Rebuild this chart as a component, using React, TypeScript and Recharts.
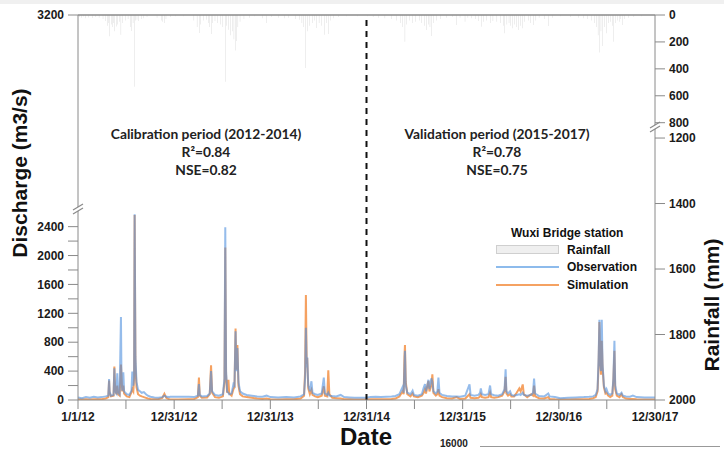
import React from 'react';
import { ComposedChart, Line, Bar, XAxis, YAxis, ReferenceLine } from 'recharts';

// days since 1/1/12
const DAYS = [
  0, 15, 30, 45, 60, 75, 90, 105, 115, 118, 120, 125, 135, 138, 141, 146, 149, 152, 158, 163, 165, 168, 172, 175, 185, 195,
  203, 206, 210, 213, 215, 218, 222, 228, 235, 242, 250, 258, 265, 275, 290, 305, 320, 328, 335, 345, 350, 380, 420, 440,
  455, 459, 462, 470, 490, 500, 505, 509, 520, 535, 550, 556, 559, 562, 566, 571, 574, 583, 590, 594, 598, 601, 605, 609,
  615, 625, 640, 660, 680, 700, 716, 730, 760, 790, 820, 845, 858, 862, 865, 868, 870, 874, 880, 886, 890, 900, 910, 925,
  933, 937, 946, 950, 954, 965, 980, 997, 1010, 1030, 1050, 1070, 1095, 1110, 1130, 1150, 1170, 1190, 1205, 1220, 1227,
  1232, 1236, 1239, 1241, 1244, 1250, 1262, 1270, 1275, 1290, 1305, 1312, 1317, 1321, 1326, 1330, 1334, 1341, 1345, 1349,
  1358, 1364, 1368, 1372, 1382, 1400, 1420, 1437, 1450, 1470, 1486, 1490, 1505, 1520, 1526, 1529, 1533, 1545, 1558, 1564,
  1568, 1580, 1595, 1610, 1619, 1623, 1626, 1632, 1640, 1645, 1655, 1665, 1675, 1680, 1688, 1692, 1705, 1720, 1727, 1731,
  1735, 1750, 1770, 1785, 1790, 1810, 1830, 1860, 1890, 1920, 1940, 1955, 1965, 1972, 1976, 1979, 1982, 1985, 1988, 1991,
  1996, 2002, 2006, 2012, 2020, 2028, 2032, 2036, 2039, 2045, 2055, 2063, 2068, 2080, 2095, 2106, 2120, 2150, 2190,
];
const OBS = [
  35, 25, 40, 30, 45, 35, 40, 50, 60, 290, 120, 60, 70, 440, 120, 90, 370, 110, 80, 1150, 300, 130, 385, 120, 80, 70,
  130, 395, 200, 350, 2570, 600, 250, 140, 120, 100, 110, 80, 60, 45, 35, 30, 40, 60, 45, 40, 45, 45, 45, 40,
  60, 220, 70, 50, 55, 90, 400, 120, 70, 60, 80, 300, 2390, 400, 120, 100, 80, 90, 220, 200, 950, 400, 720, 250,
  120, 90, 70, 60, 50, 45, 60, 40, 35, 40, 35, 50, 80, 300, 1000, 450, 590, 200, 120, 260, 100, 80, 70, 90,
  310, 90, 70, 100, 60, 55, 50, 70, 40, 35, 30, 30, 30, 40, 45, 40, 45, 50, 55, 80, 140,
  180, 100, 450, 680, 200, 100, 80, 130, 70, 60, 80, 170, 220, 120, 200, 280, 150, 300, 250, 120,
  90, 120, 310, 100, 70, 55, 50, 50, 45, 60, 215, 70, 60, 70, 100, 160, 80, 70, 80, 200,
  80, 65, 60, 80, 150, 425, 120, 90, 120, 70, 60, 70, 80, 70, 100, 70, 60, 70, 100, 295,
  90, 55, 50, 90, 50, 40, 25, 30, 35, 40, 45, 50, 70, 150, 600, 1110, 500, 400, 1110, 500,
  200, 120, 150, 90, 70, 90, 300, 820, 200, 90, 70, 100, 60, 50, 45, 60, 40, 35, 35,
];
const SIM = [
  10, 8, 10, 8, 12, 10, 12, 20, 40, 270, 100, 50, 60, 465, 150, 80, 200, 80, 60, 490, 350, 120, 200, 90, 50, 40,
  110, 150, 120, 300, 2560, 500, 180, 80, 60, 50, 40, 30, 20, 15, 10, 12, 30, 85, 30, 10, 8, 8, 10, 12,
  40, 310, 60, 30, 35, 80, 480, 100, 40, 30, 50, 250, 2110, 350, 100, 280, 90, 60, 150, 180, 990, 420, 760, 200,
  80, 50, 40, 30, 20, 15, 20, 10, 8, 10, 10, 20, 60, 400, 1455, 500, 580, 160, 80, 140, 70, 50, 40, 60,
  190, 60, 50, 410, 80, 30, 25, 20, 12, 10, 8, 8, 8, 10, 12, 10, 12, 15, 20, 50, 90,
  120, 80, 600, 760, 250, 80, 50, 90, 50, 40, 60, 100, 150, 90, 200, 265, 120, 200, 355, 100,
  60, 80, 150, 60, 40, 25, 20, 40, 15, 20, 80, 30, 25, 30, 50, 80, 40, 30, 40, 100,
  40, 30, 40, 60, 120, 320, 90, 60, 80, 50, 50, 100, 160, 120, 215, 80, 40, 80, 60, 200,
  50, 25, 20, 40, 15, 10, 8, 8, 10, 10, 15, 25, 40, 120, 500, 1080, 600, 350, 820, 450,
  180, 90, 100, 60, 40, 60, 280, 680, 150, 60, 40, 80, 40, 20, 15, 15, 10, 8, 8,
];

const RAIN_DAYS = [
  5, 12, 20, 28, 40, 55, 68, 80, 95, 105, 112, 116, 121, 126, 132, 136, 140, 145, 150, 157, 163, 168, 180, 190, 198, 204,
  209, 214, 218, 224, 230, 240, 250, 262, 300, 318, 322, 327, 334, 350, 370,
  400, 440, 452, 460, 465, 475, 488, 495, 500, 507, 512, 520, 530, 540, 550, 559, 564, 572, 580, 587, 592, 598, 602, 607,
  615, 630, 650, 670, 700, 716, 735,
  760, 785, 800, 825, 840, 850, 857, 864, 870, 878, 890, 898, 906, 915, 925, 935, 942, 950, 958, 970, 990, 1020, 1060,
  1100, 1120, 1140, 1165, 1190, 1210, 1225, 1233, 1241, 1246, 1258, 1270, 1280, 1295, 1305, 1315, 1323, 1330, 1336, 1342,
  1348, 1360, 1375, 1400, 1420, 1437, 1450,
  1469, 1480, 1495, 1510, 1520, 1532, 1540, 1550, 1565, 1575, 1590, 1605, 1614, 1620, 1628, 1636, 1643, 1649, 1656, 1664,
  1671, 1680, 1688, 1696, 1710, 1718, 1728, 1738, 1750, 1770, 1785, 1800, 1830,
  1870, 1900, 1920, 1935, 1950, 1960, 1968, 1974, 1979, 1985, 1991, 1998, 2006, 2014, 2022, 2028, 2034, 2040, 2048, 2054,
  2060, 2066, 2075, 2090, 2110, 2140,
];
const RAIN_MM = [
  15, 20, 12, 25, 18, 22, 15, 20, 30, 45, 80, 60, 158, 70, 90, 60, 120, 85, 70, 50, 146, 60, 40, 30, 90, 119,
  60, 533, 40, 35, 45, 30, 25, 15, 20, 40, 50, 59, 30, 15, 10,
  10, 40, 90, 133, 70, 40, 35, 60, 90, 141, 60, 45, 60, 70, 90, 496, 80, 110, 150, 120, 180, 264, 193, 90,
  50, 30, 20, 10, 25, 60, 15,
  20, 25, 20, 30, 35, 60, 90, 393, 120, 80, 60, 40, 96, 60, 80, 146, 60, 141, 40, 25, 15, 10, 10,
  10, 15, 20, 25, 30, 40, 60, 90, 198, 70, 40, 60, 50, 40, 60, 80, 111, 70, 90, 156,
  60, 40, 30, 20, 15, 74, 20,
  50, 20, 25, 30, 45, 87, 50, 40, 60, 45, 50, 60, 80, 136, 70, 60, 80, 99, 70, 90,
  111, 80, 99, 50, 40, 60, 74, 40, 20, 30, 81, 20, 10,
  15, 20, 25, 30, 40, 60, 90, 150, 279, 120, 230, 90, 136, 60, 50, 80, 198, 60, 40, 50,
  30, 74, 30, 20, 15, 10,
];

const X_TICKS = [0, 182, 365, 547, 730, 912, 1095, 1277, 1460, 1642, 1825, 2007, 2190];
const X_LABELS: Record<number, string> = {
  0: '1/1/12', 365: '12/31/12', 730: '12/31/13', 1095: '12/31/14', 1460: '12/31/15', 1825: '12/30/16', 2190: '12/30/17',
};
const SPLIT_DAY = 1095;

const DIS_TICKS = [0, 200, 400, 600, 800, 1000, 1200, 1400, 1600, 1800, 2000, 2200, 2400];
const DIS_TOP_LABEL = 3200;
const DIS_TOP = 5330; // axis units at the top edge after the break

const RAIN_TICKS = [0, 200, 400, 600, 800, 1200, 1400, 1600, 1800, 2000];
const RAIN_TOP = 2860;
const RAIN_1200_POS = 914;
const rainPos = (v: number) => (v <= 800 ? v : RAIN_1200_POS + ((v - 1200) * (RAIN_TOP - RAIN_1200_POS)) / 800);

const rows = (() => {
  const m = new Map<number, any>();
  DAYS.forEach((d, i) => m.set(d, { day: d, obs: OBS[i], sim: SIM[i] }));
  RAIN_DAYS.forEach((d, i) => {
    const r = m.get(d) || { day: d };
    r.rain = RAIN_MM[i];
    m.set(d, r);
  });
  return Array.from(m.values()).sort((a, b) => a.day - b.day);
})();

const axisFont = { fontFamily: 'Liberation Sans, Arial, sans-serif', fontSize: 12, fontWeight: 'bold', fill: '#1a1a1a' };
const noteFont: React.CSSProperties = {
  position: 'absolute', fontFamily: 'Lato, sans-serif', fontWeight: 'bold', fontSize: 13.8, color: '#222', textAlign: 'center', width: 260, lineHeight: '18px',
};
const GRAY = '#8a8a8a';

export default function App() {
  return (
    <div style={{ position: 'fixed', left: 0, top: 0, width: 724, height: 451, background: '#fff', overflow: 'hidden' }}>
      <div style={{ position: 'absolute', left: 0, top: 0, width: 724, height: 4, background: '#f0f0f0' }} />
      <ComposedChart width={724} height={451} data={rows} margin={{ top: 15, right: 0, bottom: 0, left: 0 }}>
        <XAxis
          dataKey="day" type="number" domain={[0, 2190]} ticks={X_TICKS} interval={0}
          tickFormatter={(v) => X_LABELS[v] || ''} height={51} tickSize={9} tickMargin={3}
          stroke={GRAY} tick={axisFont}
        />
        <YAxis
          yAxisId="q" domain={[0, DIS_TOP]} ticks={[...DIS_TICKS, DIS_TOP]} interval={0} width={78}
          tickFormatter={(v) => (v === DIS_TOP ? String(DIS_TOP_LABEL) : v % 400 === 0 ? String(v) : '')}
          tickSize={10} tickMargin={4} stroke={GRAY} tick={axisFont} allowDataOverflow
        />
        <YAxis
          yAxisId="rain" orientation="right" reversed domain={[0, RAIN_TOP]} ticks={RAIN_TICKS.map(rainPos)} interval={0}
          width={69} tickFormatter={(v) => String(RAIN_TICKS[RAIN_TICKS.map(rainPos).indexOf(v)] ?? '')}
          tickSize={10} tickMargin={4} stroke={GRAY} tick={{ ...axisFont, textAnchor: 'start' }} allowDataOverflow
        />
        <Bar yAxisId="rain" dataKey="rain" fill="#b8b8b8" barSize={2} isAnimationActive={false} />
        <Line
          yAxisId="q" type="linear" dataKey="sim" stroke="#f28a3a" strokeWidth={2} strokeOpacity={0.8}
          connectNulls dot={false} activeDot={false} isAnimationActive={false}
        />
        <Line
          yAxisId="q" type="linear" dataKey="obs" stroke="#4f8fde" strokeWidth={2} strokeOpacity={0.6}
          connectNulls dot={false} activeDot={false} isAnimationActive={false}
        />
        <ReferenceLine yAxisId="rain" y={0} stroke={GRAY} strokeWidth={1.5} />
        <ReferenceLine yAxisId="q" x={SPLIT_DAY} stroke="#111" strokeWidth={2} strokeDasharray="6 5" />
      </ComposedChart>

      {/* axis breaks */}
      <svg width={724} height={451} style={{ position: 'absolute', left: 0, top: 0, pointerEvents: 'none' }}>
        <rect x={73} y={207} width={10} height={4} fill="#fff" />
        <line x1={73} y1={210} x2={83} y2={204} stroke={GRAY} strokeWidth={1.2} />
        <line x1={73} y1={214} x2={83} y2={208} stroke={GRAY} strokeWidth={1.2} />
        <rect x={650} y={125} width={10} height={4} fill="#fff" />
        <line x1={650} y1={128} x2={660} y2={122} stroke={GRAY} strokeWidth={1.2} />
        <line x1={650} y1={132} x2={660} y2={126} stroke={GRAY} strokeWidth={1.2} />
      </svg>

      <div style={{ ...noteFont, left: 206 - 130, top: 125 }}>
        Calibration period (2012-2014)<br />R²=0.84<br />NSE=0.82
      </div>
      <div style={{ ...noteFont, left: 497 - 130, top: 125 }}>
        Validation period (2015-2017)<br />R²=0.78<br />NSE=0.75
      </div>

      <div style={{ position: 'absolute', left: 20 - 100, top: 173 - 14, width: 200, height: 28, textAlign: 'center', transform: 'rotate(-90deg)', fontFamily: 'Liberation Sans, Arial, sans-serif', fontWeight: 'bold', fontSize: 21, lineHeight: '28px', color: '#111' }}>
        Discharge (m3/s)
      </div>
      <div style={{ position: 'absolute', left: 712 - 100, top: 305 - 14, width: 200, height: 28, textAlign: 'center', transform: 'rotate(-90deg)', fontFamily: 'Liberation Sans, Arial, sans-serif', fontWeight: 'bold', fontSize: 21, lineHeight: '28px', color: '#111' }}>
        Rainfall (mm)
      </div>
      <div style={{ position: 'absolute', left: 366 - 60, top: 423, width: 120, textAlign: 'center', fontFamily: 'Liberation Sans, Arial, sans-serif', fontWeight: 'bold', fontSize: 24, lineHeight: '28px', color: '#111' }}>
        Date
      </div>

      {/* legend */}
      <div style={{ position: 'absolute', left: 496, top: 225, fontFamily: 'Liberation Sans, Arial, sans-serif', fontWeight: 'bold', fontSize: 12, color: '#111' }}>
        <div style={{ marginLeft: 15, lineHeight: '16px' }}>Wuxi Bridge station</div>
        {[
          { name: 'Rainfall', kind: 'box' },
          { name: 'Observation', color: '#8dbbec' },
          { name: 'Simulation', color: '#f5a262' },
        ].map((it) => (
          <div key={it.name} style={{ display: 'flex', alignItems: 'center', height: 17.5 }}>
            {it.kind === 'box' ? (
              <div style={{ width: 63, height: 9, background: '#efefef', border: '1px solid #cfcfcf', boxSizing: 'border-box' }} />
            ) : (
              <div style={{ width: 63, height: 2, background: it.color }} />
            )}
            <span style={{ marginLeft: 8 }}>{it.name}</span>
          </div>
        ))}
      </div>

      <div style={{ position: 'absolute', left: 440, top: 438, fontFamily: 'Liberation Sans, Arial, sans-serif', fontWeight: 'bold', fontSize: 10, lineHeight: '12px', color: '#222' }}>16000</div>
      <div style={{ position: 'absolute', left: 480, top: 446, width: 240, height: 1, background: '#999' }} />
    </div>
  );
}
